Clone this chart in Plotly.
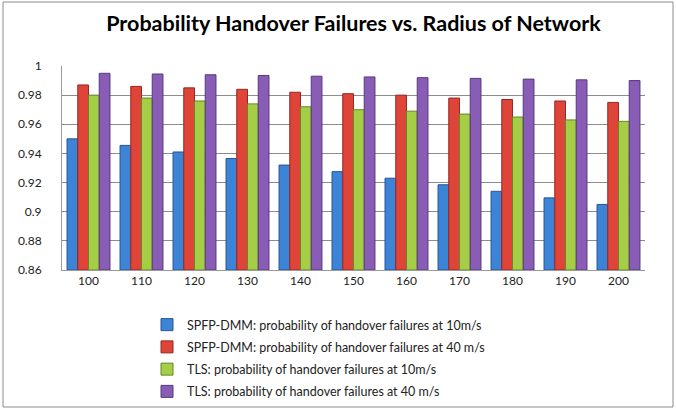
import plotly.graph_objects as go

radius = ["100", "110", "120", "130", "140", "150", "160", "170", "180", "190", "200"]

spfp_10 = [0.950, 0.9455, 0.941, 0.9365, 0.932, 0.9275, 0.923, 0.9185, 0.914, 0.9095, 0.905]
spfp_40 = [0.987, 0.986, 0.985, 0.984, 0.982, 0.981, 0.980, 0.978, 0.977, 0.976, 0.975]
tls_10 = [0.980, 0.978, 0.976, 0.974, 0.972, 0.970, 0.969, 0.967, 0.965, 0.963, 0.962]
tls_40 = [0.995, 0.9945, 0.994, 0.9935, 0.993, 0.9925, 0.992, 0.9915, 0.991, 0.9905, 0.990]

series = [
    ("SPFP-DMM: probability of handover failures at 10m/s", spfp_10, "#3D84D6", "#24549a"),
    ("SPFP-DMM: probability of handover failures at 40 m/s", spfp_40, "#DE4438", "#952820"),
    ("TLS: probability of handover failures at 10m/s", tls_10, "#A5CD45", "#628828"),
    ("TLS: probability of handover failures at 40 m/s", tls_40, "#895CB5", "#553a7c"),
]

FLOOR = 0.86
W, H = 676, 410
ML, MR, MT, MB = 62, 31, 66, 140

fig = go.Figure()
for i, (name, vals, color, edge) in enumerate(series):
    fig.add_trace(go.Bar(
        x=radius, y=[v - FLOOR for v in vals], base=FLOOR, name=name,
        legendgroup=str(i),
        marker=dict(color=color, line=dict(color=edge, width=1)),
    ))

fig.update_xaxes(
    showgrid=False,
    showline=True, linecolor="#9a9a9a", linewidth=1,
    ticks="", tickfont=dict(size=12, color="#222"),
)
fig.update_yaxes(
    range=[FLOOR, 1.0], dtick=0.02,
    showgrid=True, gridcolor="#8c8c8c", gridwidth=1,
    zeroline=False,
    showline=True, linecolor="#9a9a9a",
    ticks="", ticklabelstandoff=17, tickfont=dict(size=12, color="#222"),
)

# outer chart border
pw = W - ML - MR
ph = H - MT - MB
fig.add_shape(
    type="rect", xref="paper", yref="paper",
    x0=(3 - ML) / pw, x1=(W - 3 - ML) / pw,
    y0=-(H - 3 - MT - ph) / ph, y1=1 + (MT - 2) / ph,
    line=dict(color="#8c8c8c", width=1), layer="below",
)

fig.update_layout(
    width=W, height=H,
    margin=dict(l=ML, r=MR, t=MT, b=MB, autoexpand=False),
    font=dict(family="Lato", color="#222"),
    title=dict(
        text="<b>Probability Handover Failures vs. Radius of Network</b>",
        x=0.5, xref="paper", xanchor="center",
        y=1 - 23 / H, yref="container", yanchor="middle",
        font=dict(size=21.5, color="#000"),
    ),
    barmode="group", bargap=0.19, bargroupgap=0,
    plot_bgcolor="white", paper_bgcolor="white",
    showlegend=True,
    legend=dict(
        orientation="v", x=(147 - ML) / pw, xanchor="left",
        y=-(310 - MT - ph) / ph, yanchor="top",
        font=dict(size=12.5, color="#222"), tracegroupgap=3, itemwidth=30,
    ),
)

# page body has a default 8px margin; drop it so the figure fills the window
fig.write_html(
    "out.html",
    config={"displayModeBar": False},
    post_script="document.body.style.margin='0px';",
)
